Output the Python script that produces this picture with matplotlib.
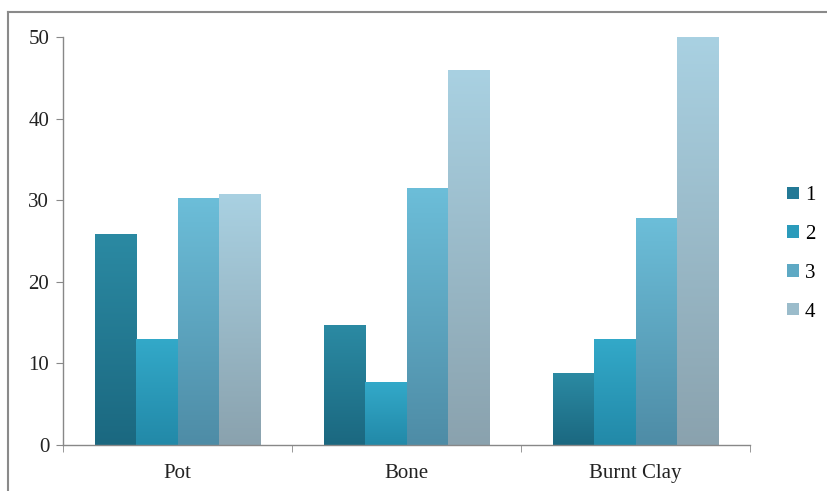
import matplotlib
matplotlib.use("Agg")
import matplotlib.pyplot as plt
import numpy as np
from matplotlib.colors import LinearSegmentedColormap
from matplotlib.patches import Patch
from matplotlib.lines import Line2D

categories = ["Pot", "Bone", "Burnt Clay"]
series_names = ["1", "2", "3", "4"]
s1 = [25.9, 14.7, 8.8]
s2 = [13.0, 7.7, 13.0]
s3 = [30.3, 31.5, 27.8]
s4 = [30.8, 46.0, 50.0]
series = [s1, s2, s3, s4]
yticks = [0, 10, 20, 30, 40, 50]

top_colors = ["#2b8aa3", "#33a9c9", "#6cbed9", "#a9d1e2"]
bot_colors = ["#1b6880", "#2289a8", "#4e8ca6", "#8aa2ae"]
mid_colors = ["#237996", "#2b9bbb", "#5ea9c4", "#9bbccb"]

plt.rcParams["font.family"] = ["Liberation Serif", "DejaVu Serif"]

fig = plt.figure(figsize=(8.27, 4.91), dpi=100)
ax = fig.add_axes([0.0762, 0.0937, 0.8307, 0.8309])

x = np.arange(len(categories))
width = 0.18
grad = np.linspace(0, 1, 256).reshape(-1, 1)
for i, vals in enumerate(series):
    offs = (i - 1.5) * width
    bars = ax.bar(x + offs, vals, width, color="none", edgecolor="none")
    cmap = LinearSegmentedColormap.from_list(f"g{i}", [bot_colors[i], top_colors[i]])
    for b in bars:
        x0, y0 = b.get_x(), b.get_y()
        w, h = b.get_width(), b.get_height()
        im = ax.imshow(grad, extent=[x0, x0 + w, y0, y0 + h], origin="lower",
                       cmap=cmap, aspect="auto", zorder=2)
        im.set_clip_path(b)

fs = 15
ax.set_xlim(-0.5, 2.5)
ax.set_ylim(0, 50)
ax.set_yticks(yticks)
ax.set_yticklabels([str(t) for t in yticks], fontsize=fs, color="#222222")
ax.set_xticks(x)
ax.set_xticklabels(categories, fontsize=fs, color="#222222")
ax.tick_params(axis="x", length=0, pad=14)
ax.tick_params(axis="y", length=5, color="#888888", pad=5, direction="out")
ax.set_xticks([-0.5, 0.5, 1.5, 2.5], minor=True)
ax.tick_params(axis="x", which="minor", length=5, color="#888888", direction="out")
for s in ["top", "right"]:
    ax.spines[s].set_visible(False)
for s in ["left", "bottom"]:
    ax.spines[s].set_color("#888888")
    ax.spines[s].set_linewidth(1.0)

handles = [Patch(facecolor=c, edgecolor="none") for c in mid_colors]
fig.legend(handles, series_names, loc="center left", bbox_to_anchor=(0.942, 0.483),
           frameon=False, fontsize=fs, handlelength=0.55, handleheight=0.55,
           handletextpad=0.3, labelspacing=0.95, borderaxespad=0)

fig.add_artist(Line2D([8 / 827, 8 / 827], [0, 1 - 12 / 491], transform=fig.transFigure,
                      color="#8a8a8a", lw=1.5))
fig.add_artist(Line2D([8 / 827, 1], [1 - 12 / 491, 1 - 12 / 491], transform=fig.transFigure,
                      color="#8a8a8a", lw=1.5))

fig.savefig("out.png", dpi=100)
